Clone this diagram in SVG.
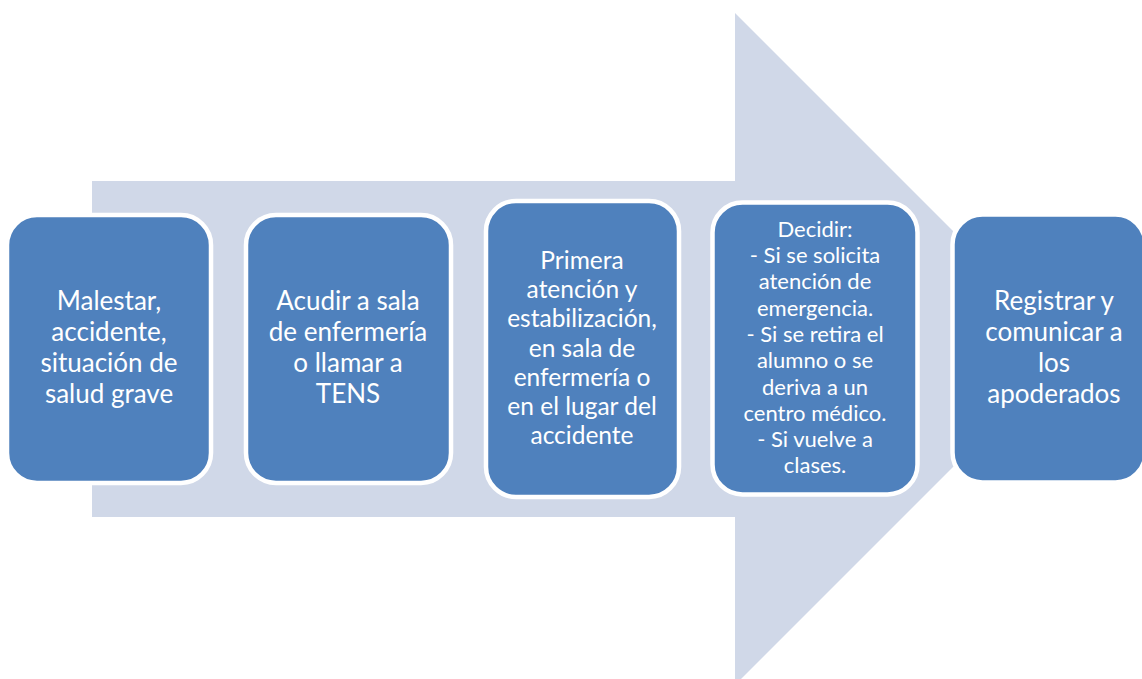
<svg xmlns="http://www.w3.org/2000/svg" width="1142" height="679" viewBox="0 0 1142 679">
  <style>
    .box { fill: #4F81BD; stroke: #FFFFFF; stroke-width: 4.5; }
    .arrow { fill: #D0D8E8; }
    text { font-family: Lato, "Liberation Sans", sans-serif; fill: #FFFFFF; text-anchor: middle; }
    .t1 { font-size: 26px; }
    .t3 { font-size: 24.5px; }
    .t4 { font-size: 22px; }
  </style>
  <rect width="1142" height="679" fill="#FFFFFF"/>
  <g id="connectors">
    <polygon class="arrow" points="92,181 735,181 735,13 1071,349 735,685 735,517 92,517"/>
  </g>
  <g id="node1">
    <rect class="box" x="7" y="215" width="204" height="268" rx="30"/>
    <text class="t1" x="109"><tspan x="109" y="310">Malestar,</tspan><tspan x="109" y="341">accidente,</tspan><tspan x="109" y="372">situación de</tspan><tspan x="109" y="403">salud grave</tspan></text>
  </g>
  <g id="node2">
    <rect class="box" x="246" y="215" width="205" height="268" rx="30"/>
    <text class="t1" x="348"><tspan x="348" y="310">Acudir a sala</tspan><tspan x="348" y="341">de enfermería</tspan><tspan x="348" y="372">o llamar a</tspan><tspan x="348" y="403">TENS</tspan></text>
  </g>
  <g id="node3">
    <rect class="box" x="486" y="201" width="193" height="296" rx="30"/>
    <text class="t3" x="582"><tspan x="582" y="269">Primera</tspan><tspan x="582" y="298">atención y</tspan><tspan x="582" y="327">estabilización,</tspan><tspan x="582" y="357">en sala de</tspan><tspan x="582" y="386">enfermería o</tspan><tspan x="582" y="415">en el lugar del</tspan><tspan x="582" y="444">accidente</tspan></text>
  </g>
  <g id="node4">
    <rect class="box" x="712.5" y="202.5" width="205" height="292" rx="30"/>
    <text class="t4" x="815"><tspan x="815" y="237">Decidir:</tspan><tspan x="815" y="263">- Si se solicita</tspan><tspan x="815" y="289">atención de</tspan><tspan x="815" y="316">emergencia.</tspan><tspan x="815" y="342">- Si se retira el</tspan><tspan x="815" y="368">alumno o se</tspan><tspan x="815" y="395">deriva a un</tspan><tspan x="815" y="421">centro médico.</tspan><tspan x="815" y="447">- Si vuelve a</tspan><tspan x="815" y="473">clases.</tspan></text>
  </g>
  <g id="node5">
    <rect class="box" x="952.5" y="214.5" width="193" height="268" rx="30"/>
    <text class="t1" x="1054"><tspan x="1054" y="310">Registrar y</tspan><tspan x="1054" y="341">comunicar a</tspan><tspan x="1054" y="372">los</tspan><tspan x="1054" y="403">apoderados</tspan></text>
  </g>
</svg>
